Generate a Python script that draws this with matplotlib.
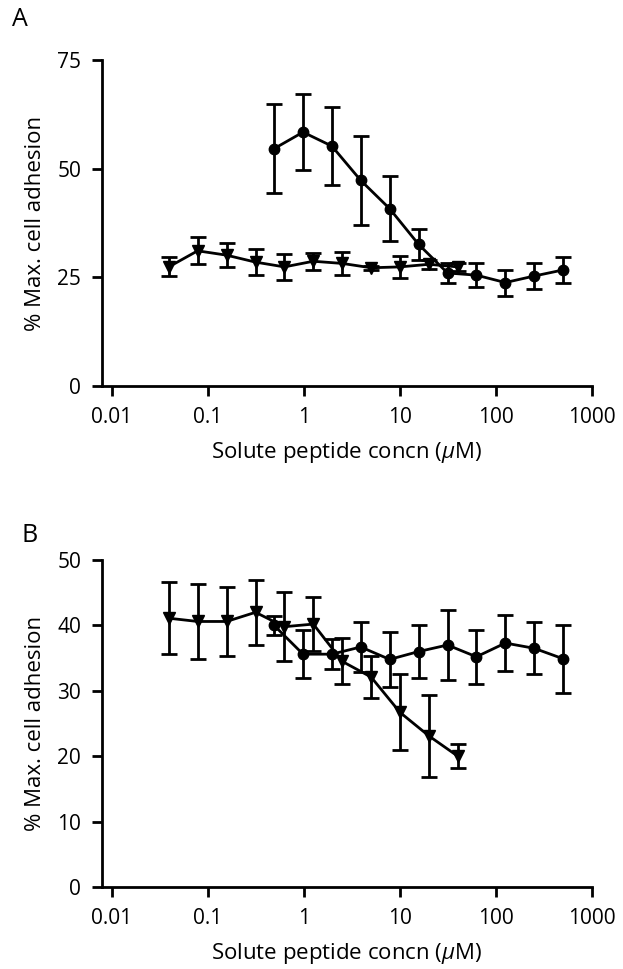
import numpy as np
import matplotlib
matplotlib.use("Agg")
import matplotlib.pyplot as plt

plt.rcParams['font.family'] = ['Open Sans', 'DejaVu Sans']
plt.rcParams['mathtext.fontset'] = 'custom'
plt.rcParams['mathtext.it'] = 'Open Sans:italic'

# --- data (concentration in uM, % max adhesion, +/- error) ---
conc_circ = [0.488, 0.977, 1.95, 3.9, 7.8, 15.6, 31.25, 62.5, 125, 250, 500]
conc_tri = [0.039, 0.078, 0.156, 0.3125, 0.625, 1.25, 2.5, 5, 10, 20, 40]

a_circ = [54.6, 58.4, 55.2, 47.3, 40.8, 32.6, 26.0, 25.5, 23.8, 25.3, 26.7]
a_circ_err = [10.3, 8.8, 9.0, 10.3, 7.4, 3.6, 2.4, 2.7, 3.0, 2.9, 3.0]
a_tri = [27.4, 31.1, 30.1, 28.5, 27.4, 28.7, 28.2, 27.2, 27.4, 28.0, 27.4]
a_tri_err = [2.2, 3.1, 2.7, 3.0, 3.0, 2.0, 2.7, 0.5, 2.6, 1.0, 1.0]

b_circ = [40.0, 35.6, 35.6, 36.7, 34.8, 36.0, 37.0, 35.2, 37.3, 36.5, 34.9]
b_circ_err = [1.4, 3.7, 2.3, 3.8, 4.2, 4.0, 5.4, 4.1, 4.3, 4.0, 5.2]
b_tri = [41.1, 40.6, 40.6, 42.0, 39.8, 40.2, 34.5, 32.1, 26.7, 23.1, 20.0]
b_tri_err = [5.5, 5.8, 5.3, 5.0, 5.3, 4.1, 3.5, 3.2, 5.8, 6.3, 1.8]

xticks = [0.01, 0.1, 1, 10, 100, 1000]
xticklabels = ['0.01', '0.1', '1', '10', '100', '1000']

fig = plt.figure(figsize=(6.23, 9.69), dpi=100)
axA = fig.add_axes([102/623, 1 - 386/969, 490/623, 326/969])
axB = fig.add_axes([102/623, 1 - 887/969, 490/623, 327/969])

style = dict(color='black', lw=2.0, elinewidth=2.0, capsize=5.5, capthick=2.0)


def setup(ax, ymax, yticks):
    ax.set_xscale('log')
    ax.set_xlim(10 ** (-2 - 10 / 96), 1000)
    ax.set_ylim(0, ymax)
    ax.set_xticks(xticks)
    ax.set_xticklabels(xticklabels)
    ax.xaxis.set_minor_locator(matplotlib.ticker.NullLocator())
    ax.set_yticks(yticks)
    for s in ['top', 'right']:
        ax.spines[s].set_visible(False)
    for s in ['left', 'bottom']:
        ax.spines[s].set_linewidth(2.0)
    ax.tick_params(direction='out', length=7, width=2.0, labelsize=15, pad=8)
    ax.set_xlabel(r'Solute peptide concn ($\mu$M)', fontsize=16, labelpad=9)
    ax.set_ylabel('% Max. cell adhesion', fontsize=16, labelpad=8)


axA.errorbar(conc_circ, a_circ, yerr=a_circ_err, marker='o', ms=7.5, **style)
axA.errorbar(conc_tri, a_tri, yerr=a_tri_err, marker='v', ms=8.5, **style)
setup(axA, 75, [0, 25, 50, 75])

axB.errorbar(conc_circ, b_circ, yerr=b_circ_err, marker='o', ms=7.5, **style)
axB.errorbar(conc_tri, b_tri, yerr=b_tri_err, marker='v', ms=8.5, **style)
setup(axB, 50, [0, 10, 20, 30, 40, 50])

fig.text(12/623, 1 - 20/969, 'A', fontsize=18, va='center', ha='left')
fig.text(22/623, 1 - 536/969, 'B', fontsize=18, va='center', ha='left')

fig.savefig('out.png', dpi=100)
